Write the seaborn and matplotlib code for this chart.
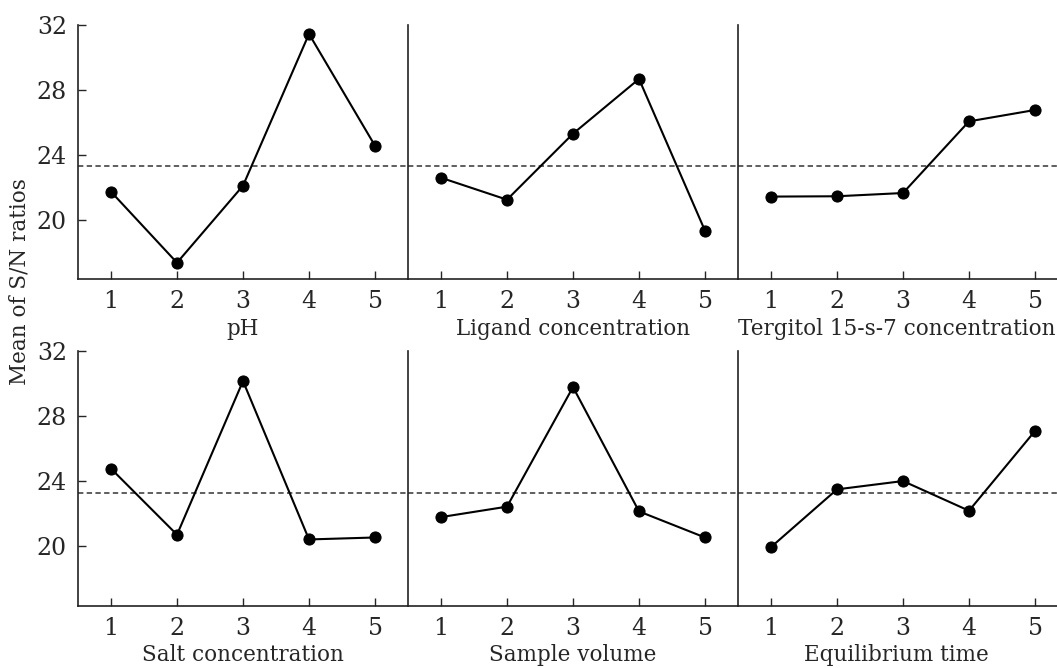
import numpy as np
import pandas as pd
import seaborn as sns
import matplotlib
matplotlib.use("Agg")
import matplotlib.pyplot as plt

levels = [1, 2, 3, 4, 5]
factors = ["pH", "Ligand concentration", "Tergitol 15-s-7 concentration",
           "Salt concentration", "Sample volume", "Equilibrium time"]

ph       = [21.74, 17.37, 22.11, 31.45, 24.57]
ligand   = [22.60, 21.25, 25.31, 28.68, 19.34]
tergitol = [21.44, 21.46, 21.66, 26.07, 26.77]
salt     = [24.77, 20.72, 30.14, 20.43, 20.55]
volume   = [21.80, 22.44, 29.77, 22.15, 20.55]
eq_time  = [19.96, 23.50, 24.01, 22.19, 27.08]
grand_mean = 23.3

yticks = [20, 24, 28, 32]
ylabel = "Mean of S/N ratios"

series = [ph, ligand, tergitol, salt, volume, eq_time]
rows = []
for name, vals in zip(factors, series):
    for lv, v in zip(levels, vals):
        rows.append({"factor": name, "level": lv, "sn": v})
df = pd.DataFrame(rows)

sns.set_style("ticks")
plt.rcParams["font.family"] = ["DejaVu Serif"]
plt.rcParams["xtick.direction"] = "in"
plt.rcParams["ytick.direction"] = "in"

LABEL_FS = 15.5
TICK_FS = 17

fig = plt.figure(figsize=(10.57, 6.68), dpi=100)
W, H = 1057, 668
pw = 330
left0 = 78
rows_px = [(25, 279.3), (350.7, 606)]

for i, name in enumerate(factors):
    r, c = divmod(i, 3)
    top, bot = rows_px[r]
    x0 = left0 + c * pw
    ax = fig.add_axes([x0 / W, 1 - bot / H, pw / W, (bot - top) / H])
    sub = df[df["factor"] == name]
    sns.lineplot(data=sub, x="level", y="sn", ax=ax, color="black",
                 linewidth=1.5, marker="o", markersize=8,
                 markeredgecolor="black", markerfacecolor="black")
    ax.axhline(grand_mean, color="#333333", linestyle=(0, (3.5, 2.2)),
               linewidth=1.1, zorder=0)
    ax.set_xlim(0.5, 5.5)
    ax.set_ylim(16.35, 32)
    ax.set_xticks(levels)
    ax.set_yticks(yticks)
    ax.set_xlabel(name, fontsize=LABEL_FS, labelpad=3)
    ax.set_ylabel("")
    ax.tick_params(direction="in", length=6, width=1, labelsize=TICK_FS, pad=8)
    sns.despine(ax=ax)
    for s in ["left", "bottom"]:
        ax.spines[s].set_linewidth(1.2)
        ax.spines[s].set_color("#222222")
    if c > 0:
        ax.tick_params(axis="y", left=False, labelleft=False)
    if c == 2:
        # right panel is cut by the figure edge; nudge its label inward
        ax.xaxis.label.set_x(0.48)

fig.text(20 / W, 1 - 282 / H, ylabel, rotation=90, ha="center", va="center",
         fontsize=LABEL_FS)

fig.savefig("out.png", dpi=100)
